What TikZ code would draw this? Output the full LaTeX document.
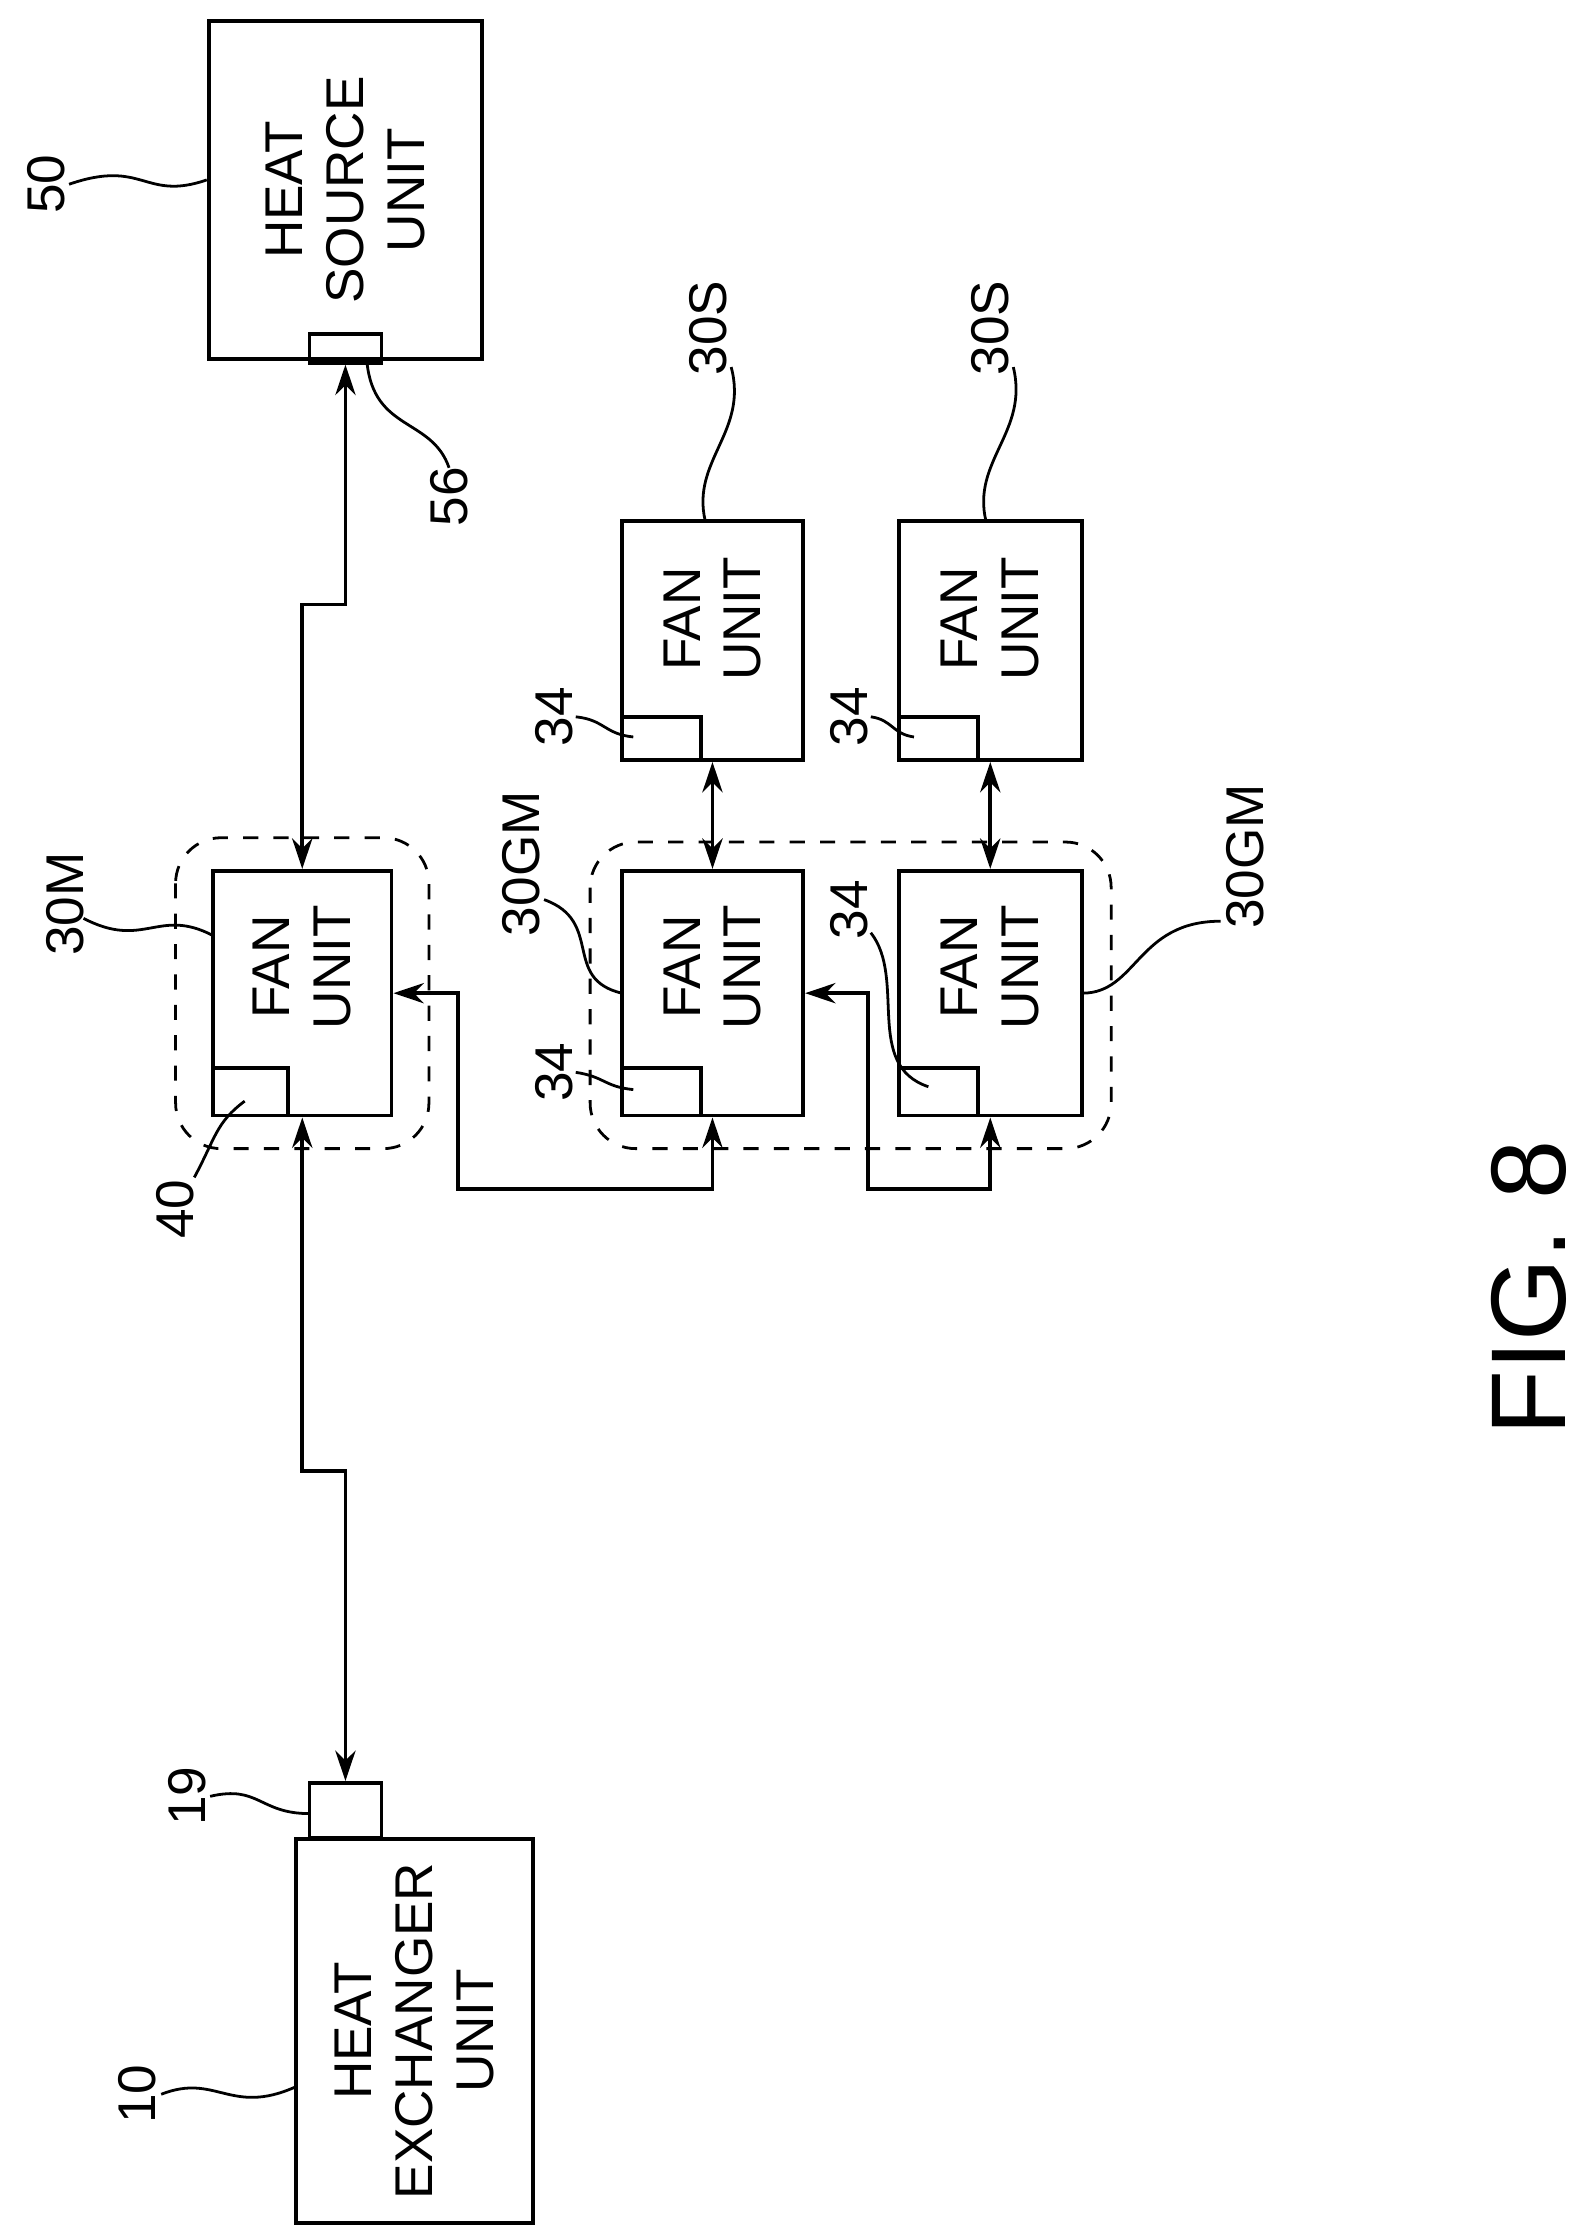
\documentclass[tikz,border=0pt]{standalone}
\usepackage{fontspec}
\setmainfont{Liberation Sans}
\usetikzlibrary{arrows.meta}
\begin{document}
\begin{tikzpicture}[x=0.01cm,y=-0.01cm,line width=0.75pt,>={Stealth[length=6pt,width=4pt]}]
  \tikzstyle{unit}=[draw,inner sep=0pt]
  \tikzstyle{txt}=[rotate=90,align=center,font=\fontsize{10.5}{12}\selectfont]
  \tikzstyle{ref}=[rotate=90,font=\fontsize{10.5}{12}\selectfont]
  \tikzstyle{lead}=[line width=0.55pt]
  \tikzstyle{group}=[draw,dashed,rounded corners=9pt,line width=0.55pt]
  \useasboundingbox (0,0) rectangle (1100,1550);
  % units
  \node [unit,minimum width=1.9cm,minimum height=2.35cm] (hs) at (240,132) {};
  \node [unit,minimum width=0.5cm,minimum height=0.2cm] (c56) at (240,242) {};
  \node [unit,minimum width=1.24cm,minimum height=1.7cm] (fm) at (210,690) {};
  \node [unit,minimum width=0.52cm,minimum height=0.33cm,anchor=south west] (c40) at (fm.south west) {};
  \node [unit,minimum width=1.26cm,minimum height=1.7cm] (g1) at (495,690) {};
  \node [unit,minimum width=0.55cm,minimum height=0.33cm,anchor=south west] (c34a) at (g1.south west) {};
  \node [unit,minimum width=1.27cm,minimum height=1.7cm] (g2) at (688,690) {};
  \node [unit,minimum width=0.55cm,minimum height=0.33cm,anchor=south west] (c34b) at (g2.south west) {};
  \node [unit,minimum width=1.26cm,minimum height=1.66cm] (s1) at (495,445) {};
  \node [unit,minimum width=0.55cm,minimum height=0.3cm,anchor=south west] (c34c) at (s1.south west) {};
  \node [unit,minimum width=1.27cm,minimum height=1.66cm] (s2) at (688,445) {};
  \node [unit,minimum width=0.55cm,minimum height=0.3cm,anchor=south west] (c34d) at (s2.south west) {};
  \node [unit,minimum width=1.65cm,minimum height=2.67cm] (hx) at (288,1411) {};
  \node [unit,minimum width=0.5cm,minimum height=0.38cm,anchor=south] (c19) at (240,1278) {};
  % texts
  \node [txt] at (hs.center) {HEAT\\SOURCE\\UNIT};
  \node [txt] at (210,672) {FAN\\UNIT};
  \node [txt] at (495,672) {FAN\\UNIT};
  \node [txt] at (688,672) {FAN\\UNIT};
  \node [txt] at (495,430) {FAN\\UNIT};
  \node [txt] at (688,430) {FAN\\UNIT};
  \node [txt] at (hx.center) {HEAT\\EXCHANGER\\UNIT};
  \node [rotate=90,font=\fontsize{21}{24}\selectfont] (fig) at (1062,895) {FIG. 8};
  % dashed groups
  \draw [group] (122,582) rectangle (298,798);
  \draw [group] (410,585) rectangle (772,798);
  % connections
  \draw [<->] (c56.south) -- (240,420) -- (210,420) -- (fm.north);
  \draw [<->] (fm.south) -- (210,1022) -- (240,1022) -- (c19.north);
  \draw [<->] (s1.south) -- (g1.north);
  \draw [<->] (s2.south) -- (g2.north);
  \draw [<->] (fm.east) -- (318,690) -- (318,826) -- (495,826) -- (g1.south);
  \draw [<->] (g1.east) -- (603,690) -- (603,826) -- (688,826) -- (g2.south);
  % reference numerals
  \node [ref] (n50) at (32,128) {50};
  \draw [lead] (48,128) .. controls (100,110) and (100,140) .. (hs.west |- 0,125);
  \node [ref] (n56) at (312,345) {56};
  \draw [lead] (255,252) .. controls (260,300) and (300,290) .. (312,325);
  \node [ref] (n30m) at (45,628) {30M};
  \draw [lead] (58,638) .. controls (100,660) and (110,630) .. (148,650);
  \node [ref] (n40) at (122,840) {40};
  \draw [lead] (135,818) .. controls (150,790) and (150,780) .. (170,765);
  \node [ref] (n19) at (130,1248) {19};
  \draw [lead] (146,1248) .. controls (180,1240) and (180,1260) .. (215,1260);
  \node [ref] (n10) at (95,1455) {10};
  \draw [lead] (112,1455) .. controls (150,1440) and (160,1470) .. (205,1450);
  \node [ref] (n30s1) at (492,228) {30S};
  \draw [lead] (508,255) .. controls (520,300) and (480,320) .. (490,362);
  \node [ref] (n30s2) at (688,228) {30S};
  \draw [lead] (704,255) .. controls (715,300) and (675,320) .. (685,362);
  \node [ref] (n30gm1) at (362,600) {30GM};
  \draw [lead] (378,625) .. controls (420,640) and (390,680) .. (432,690);
  \node [ref] (n30gm2) at (865,595) {30GM};
  \draw [lead] (752,690) .. controls (790,690) and (790,640) .. (848,640);
  \node [ref] (n34a) at (385,498) {34};
  \draw [lead] (400,498) .. controls (420,500) and (420,510) .. (440,512);
  \node [ref] (n34b) at (385,745) {34};
  \draw [lead] (400,745) .. controls (420,748) and (420,755) .. (440,757);
  \node [ref] (n34c) at (590,498) {34};
  \draw [lead] (605,498) .. controls (620,500) and (620,510) .. (635,512);
  \node [ref] (n34d) at (590,632) {34};
  \draw [lead] (605,648) .. controls (630,680) and (600,740) .. (645,755);
\end{tikzpicture}
\end{document}
